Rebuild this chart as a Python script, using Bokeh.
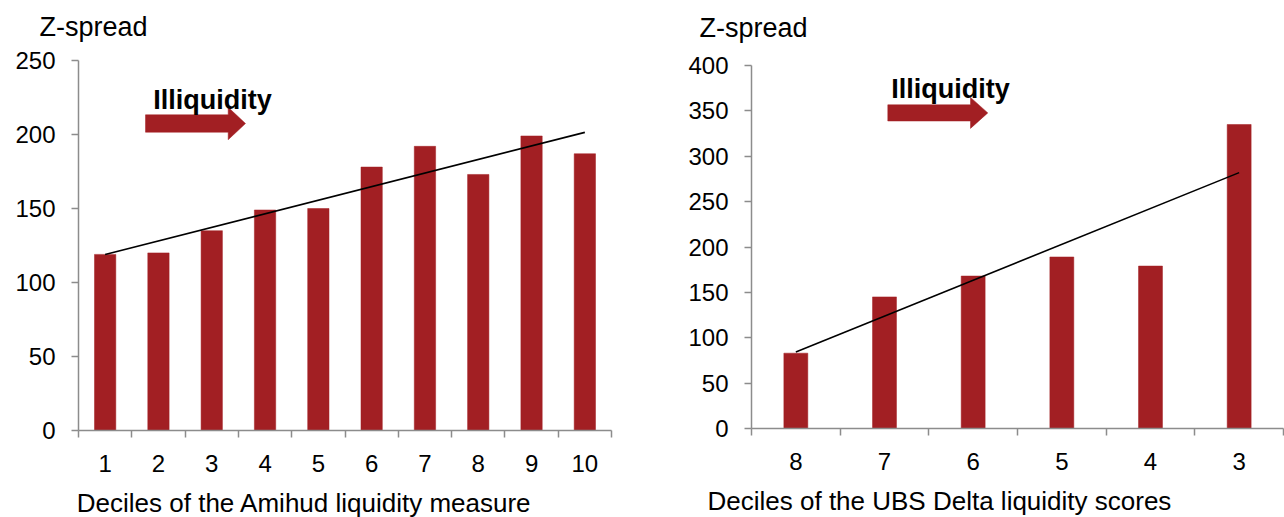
import numpy as np
from bokeh.plotting import figure
from bokeh.models import Range1d, FixedTicker, Label
from bokeh.layouts import row, column
from bokeh.embed import file_html
from bokeh.resources import INLINE

# ---------------- data ----------------
left_categories = ["1", "2", "3", "4", "5", "6", "7", "8", "9", "10"]
left_values = [119, 120, 135, 149, 150, 178, 192, 173, 199, 187]
left_y_ticks = [0, 50, 100, 150, 200, 250]

right_categories = ["8", "7", "6", "5", "4", "3"]
right_values = [83, 145, 168, 189, 179, 335]
right_y_ticks = [0, 50, 100, 150, 200, 250, 300, 350, 400]

y_title = "Z-spread"
arrow_text = "Illiquidity"
left_x_title = "Deciles of the Amihud liquidity measure"
right_x_title = "Deciles of the UBS Delta liquidity scores"

# ---------------- style ----------------
RED = "#A21F23"
GRAY = "#8C8C8C"
FONT = "Liberation Sans"


def make_chart(cats, vals, yticks, bar_w, width, height, frame_px,
               arrow_px, text_pos, x_title):
    n = len(cats)
    xs = list(range(1, n + 1))
    ymax = yticks[-1]
    fl, ft, fw, fh = frame_px          # axis box in figure pixels
    kx = fw / n
    ky = fh / ymax
    x_start = 0.5 - fl / kx
    x_end = 0.5 + (width - fl) / kx
    y_end = ymax + ft / ky
    y_start = -(height - (ft + fh)) / ky

    p = figure(width=width, height=height, title=None,
               x_range=Range1d(x_start, x_end), y_range=Range1d(y_start, y_end),
               output_backend="svg", toolbar_location=None,
               min_border=0, min_border_left=0, min_border_right=0,
               min_border_top=0, min_border_bottom=0)
    p.outline_line_color = None
    p.xgrid.visible = False
    p.ygrid.visible = False
    p.background_fill_color = "white"
    p.border_fill_color = "white"

    p.vbar(x=xs, top=vals, width=bar_w, fill_color=RED, line_color=RED, line_width=0.5)

    coef = np.polyfit(xs, vals, 1)
    ends = [xs[0], xs[-1]]
    p.line(ends, list(np.polyval(coef, ends)), line_color="black", line_width=1.6)

    # x axis, placed at y = 0
    xa = p.xaxis[0]
    xa.fixed_location = 0
    xa.bounds = (0.5, n + 0.5)
    xa.ticker = FixedTicker(ticks=xs, minor_ticks=[x - 0.5 for x in xs] + [n + 0.5])
    xa.major_label_overrides = {x: c for x, c in zip(xs, cats)}
    xa.major_tick_out = 0
    xa.major_tick_in = 0
    xa.minor_tick_out = 7
    xa.minor_tick_in = 0
    xa.minor_tick_line_color = GRAY
    xa.minor_tick_line_width = 1.5
    xa.axis_line_color = GRAY
    xa.axis_line_width = 1.5
    xa.major_label_text_font = FONT
    xa.major_label_text_font_size = "24px"
    xa.major_label_text_color = "black"
    xa.major_label_standoff = 17

    # y axis, placed at the left edge of the first category
    ya = p.yaxis[0]
    ya.fixed_location = 0.5
    ya.bounds = (0, ymax)
    ya.ticker = FixedTicker(ticks=yticks, minor_ticks=[])
    ya.major_tick_out = 7
    ya.major_tick_in = 0
    ya.minor_tick_out = 0
    ya.minor_tick_in = 0
    ya.major_tick_line_color = GRAY
    ya.major_tick_line_width = 1.5
    ya.axis_line_color = GRAY
    ya.axis_line_width = 1.5
    ya.major_label_text_font = FONT
    ya.major_label_text_font_size = "24px"
    ya.major_label_text_color = "black"
    ya.major_label_standoff = 16

    def dx(px):
        return 0.5 + (px - fl) / kx

    def dy(py):
        return ymax - (py - ft) / ky

    x0, x1, x2, yc, bh, hh = arrow_px
    ax = [dx(x0), dx(x1), dx(x1), dx(x2), dx(x1), dx(x1), dx(x0)]
    ay = [dy(yc - bh), dy(yc - bh), dy(yc - hh), dy(yc), dy(yc + hh), dy(yc + bh), dy(yc + bh)]
    p.patch(ax, ay, fill_color=RED, line_color=RED, line_width=0.5)

    (zx, zy), (ix, iy), (tx, ty) = text_pos
    p.add_layout(Label(x=0.5, y=ymax, x_offset=zx, y_offset=zy, text=y_title,
                       text_font=FONT, text_font_size="27px", text_color="black",
                       text_baseline="alphabetic", text_align="left"))
    p.add_layout(Label(x=0.5, y=ymax, x_offset=ix, y_offset=iy, text=arrow_text,
                       text_font=FONT, text_font_size="27px", text_font_style="bold",
                       text_color="black", text_baseline="alphabetic", text_align="left"))
    p.add_layout(Label(x=0.5, y=0, x_offset=tx, y_offset=ty, text=x_title,
                       text_font=FONT, text_font_size="26px", text_color="black",
                       text_baseline="alphabetic", text_align="left"))
    return p


left = make_chart(left_categories, left_values, left_y_ticks, 0.4,
                  640, 517, (78, 60, 533, 370),
                  (145, 227.7, 245, 123, 8.7, 16.2),
                  ((-39, 33.3), (74.7, -39), (-1.7, -72)), left_x_title)

right = make_chart(right_categories, right_values, right_y_ticks, 0.27,
                   644, 517, (111, 65, 532, 363),
                   (247.3, 330, 347.3, 112.4, 8.1, 15.5),
                   ((-52, 38), (139.7, -23), (-44, -72)), right_x_title)

layout = row(column(left), column(right))
open("out.html", "w").write(file_html(layout, INLINE))
